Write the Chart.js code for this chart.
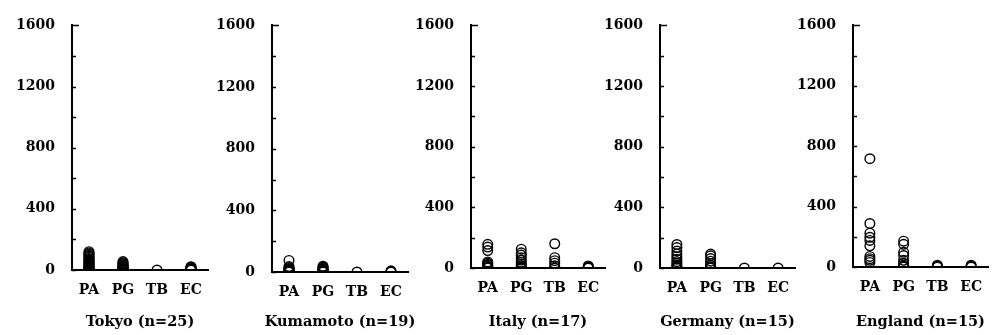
<!DOCTYPE html>
<html>
<head>
<meta charset="utf-8">
<script src="https://cdn.jsdelivr.net/npm/chart.js@4/dist/chart.umd.min.js"></script>
<style>
  body { margin: 0; background: #fff; }
  #wrap { position: relative; width: 998px; height: 335px; overflow: hidden; }
  canvas { position: absolute; top: 0; }
</style>
</head>
<body>
<div id="wrap"></div>
<script>
const categories = ['PA', 'PG', 'TB', 'EC'];
const yTicks = [0, 400, 800, 1200, 1600];

const tokyoPA = [120, 112, 105, 98, 90, 84, 76, 70, 64, 58, 52, 47, 42, 37, 32, 27, 22, 18, 14, 10, 7, 5, 3, 1, 0];
const tokyoPG = [55, 48, 42, 36, 30, 26, 22, 18, 15, 12, 10, 8, 6, 5, 4, 3, 2, 1, 0];
const tokyoTB = [0];
const tokyoEC = [22, 18, 14, 10, 8, 5, 3, 2, 0];

const kumamotoPA = [75, 35, 28, 22, 18, 14, 10, 6, 3, 0];
const kumamotoPG = [38, 32, 27, 22, 18, 14, 10, 6, 3, 0];
const kumamotoTB = [0];
const kumamotoEC = [8, 3, 0];

const italyPA = [156, 138, 115, 40, 32, 25, 18, 12, 6, 0];
const italyPG = [124, 100, 85, 68, 52, 38, 25, 15, 6, 0];
const italyTB = [160, 68, 48, 32, 15, 0];
const italyEC = [14, 8, 3, 0];

const germanyPA = [155, 135, 112, 92, 75, 58, 42, 30, 18, 8, 0];
const germanyPG = [92, 80, 62, 45, 30, 18, 8, 0];
const germanyTB = [0];
const germanyEC = [0];

const englandPA = [717, 288, 224, 197, 176, 140, 70, 55, 44, 30];
const englandPG = [171, 150, 97, 76, 44, 25, 12, 5, 0];
const englandTB = [12, 5, 0];
const englandEC = [12, 5, 0];

const panels = [
    { title: 'Tokyo (n=25)', values: [tokyoPA, tokyoPG, tokyoTB, tokyoEC] },
    { title: 'Kumamoto (n=19)', values: [kumamotoPA, kumamotoPG, kumamotoTB, kumamotoEC] },
    { title: 'Italy (n=17)', values: [italyPA, italyPG, italyTB, italyEC] },
    { title: 'Germany (n=15)', values: [germanyPA, germanyPG, germanyTB, germanyEC] },
    { title: 'England (n=15)', values: [englandPA, englandPG, englandTB, englandEC] },
];

// where each panel's axes sit on the page
const frames = [
    { axisX: 72, top: 17, bottom: 270, width: 136 },
    { axisX: 272, top: 18, bottom: 272, width: 136 },
    { axisX: 471, top: 15, bottom: 268, width: 134 },
    { axisX: 660, top: 14, bottom: 268, width: 135 },
    { axisX: 853, top: 15, bottom: 267, width: 135 },
];

const H = 335;
const Y_AXIS_W = 70;
const RIGHT_PAD = 24;
const TITLE_Y = 322;
const font = 'DejaVu Serif';

// short tick marks on the inner side of the y axis
const innerTicks = {
    id: 'innerTicks',
    afterDraw(chart) {
        const y = chart.scales.y;
        const ctx = chart.ctx;
        const left = chart.chartArea.left;
        ctx.save();
        ctx.strokeStyle = '#000';
        ctx.lineWidth = 1.5;
        y.ticks.forEach((t) => {
            const py = Math.round(y.getPixelForValue(t.value)) + 0.5;
            const len = t.value === 1600 ? 7 : 4;
            ctx.beginPath();
            ctx.moveTo(left, py);
            ctx.lineTo(left + len, py);
            ctx.stroke();
        });
        ctx.restore();
    }
};

// panel caption centred under the plot area (may be wider than the axis)
const panelCaption = {
    id: 'panelCaption',
    afterDraw(chart, args, opts) {
        const { left, right } = chart.chartArea;
        const ctx = chart.ctx;
        ctx.save();
        ctx.fillStyle = '#000';
        ctx.font = 'bold 14.5px "' + font + '"';
        ctx.textAlign = 'center';
        ctx.textBaseline = 'middle';
        ctx.fillText(opts.text, (left + right) / 2, TITLE_Y);
        ctx.restore();
    }
};

const wrap = document.getElementById('wrap');

panels.forEach((panel, i) => {
    const f = frames[i];
    const canvas = document.createElement('canvas');
    const w = Y_AXIS_W + f.width + RIGHT_PAD;
    canvas.width = w;
    canvas.height = H;
    canvas.style.left = (f.axisX - Y_AXIS_W) + 'px';
    canvas.style.width = w + 'px';
    canvas.style.height = H + 'px';
    wrap.appendChild(canvas);

    const points = [];
    panel.values.forEach((vals, c) => {
        vals.forEach((v) => points.push({ x: categories[c], y: v }));
    });

    new Chart(canvas.getContext('2d'), {
        type: 'line',
        data: {
            labels: categories,
            datasets: [{
                data: points,
                showLine: false,
                pointStyle: 'circle',
                pointRadius: 4.8,
                pointBorderWidth: 1.4,
                pointBorderColor: '#000',
                pointBackgroundColor: 'rgba(0,0,0,0)',
            }],
        },
        options: {
            responsive: false,
            animation: false,
            devicePixelRatio: 1,
            layout: { padding: { top: f.top, bottom: 0, left: 0, right: RIGHT_PAD } },
            plugins: {
                legend: { display: false },
                tooltip: { enabled: false },
                panelCaption: { text: panel.title },
            },
            scales: {
                x: {
                    type: 'category',
                    offset: true,
                    grid: { display: false, drawTicks: false },
                    border: { display: true, color: '#000', width: 2 },
                    ticks: {
                        color: '#000',
                        padding: 12,
                        maxRotation: 0,
                        font: { family: font, weight: 'bold', size: 14 },
                    },
                    afterFit: (scale) => { scale.height = H - f.bottom; },
                },
                y: {
                    min: 0,
                    max: 1600,
                    grid: { display: false, drawTicks: false },
                    border: { display: true, color: '#000', width: 2 },
                    ticks: {
                        stepSize: 200,
                        color: '#000',
                        padding: 17,
                        font: { family: font, weight: 'bold', size: 14 },
                        callback: (v) => (yTicks.includes(v) ? v : ''),
                    },
                    afterFit: (scale) => { scale.width = Y_AXIS_W; },
                },
            },
        },
        plugins: [innerTicks, panelCaption],
    });
});
</script>
</body>
</html>
